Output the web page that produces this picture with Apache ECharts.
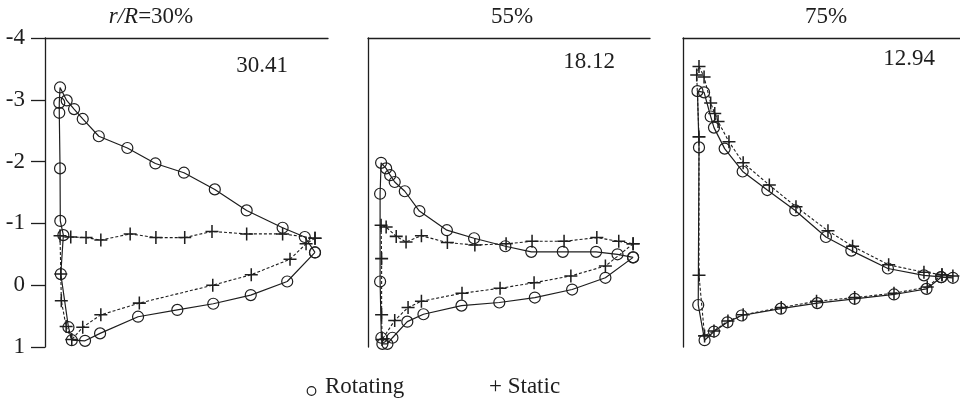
<!DOCTYPE html>
<html>
<head>
<meta charset="utf-8">
<script src="https://cdn.jsdelivr.net/npm/echarts@6/dist/echarts.min.js"></script>
<style>
  html, body { margin: 0; padding: 0; background: #fff; }
  #chart { width: 960px; height: 406px; }
</style>
</head>
<body>
<div id="chart"></div>
<script>
// pressure coefficient along the chord, three radial sections
const yTicks = [-4, -3, -2, -1, 0, 1];
const panelNames = ['{i|r/R}=30%', '55%', '75%'];
const panelValues = ['30.41', '18.12', '12.94'];
const legendNames = ['Rotating', '+ Static'];

// r/R = 30%
const rot30X = [1.0, 0.891, 0.748, 0.601, 0.46, 0.306, 0.157, 0.098, 0.046, 0.033, 0.003, 0.013, 0.001, 0.0, -0.003, -0.003, 0.0, 0.026, 0.055, 0.089, 0.152, 0.264, 0.374, 0.486, 0.607, 0.732, 0.873, 0.96, 1.0];
const rot30Cp = [-0.53, -0.06, 0.16, 0.30, 0.40, 0.51, 0.78, 0.90, 0.89, 0.68, -0.18, -0.81, -1.04, -1.89, -2.79, -2.95, -3.2, -2.99, -2.85, -2.69, -2.41, -2.22, -1.97, -1.82, -1.55, -1.21, -0.93, -0.78, -0.53];
const sta30X = [1.0, 0.965, 0.902, 0.75, 0.599, 0.311, 0.16, 0.089, 0.046, 0.024, 0.005, 0.003, 0.0, 0.042, 0.102, 0.16, 0.275, 0.376, 0.489, 0.596, 0.732, 0.873, 1.0];
const sta30Cp = [-0.76, -0.67, -0.42, -0.17, 0.0, 0.29, 0.48, 0.68, 0.88, 0.67, 0.25, -0.18, -0.80, -0.78, -0.77, -0.73, -0.83, -0.77, -0.77, -0.87, -0.83, -0.83, -0.76];

// r/R = 55%
const rot55X = [1.0, 0.89, 0.758, 0.61, 0.469, 0.319, 0.168, 0.104, 0.045, 0.025, 0.005, 0.001, -0.004, -0.004, 0.0, 0.02, 0.036, 0.054, 0.094, 0.152, 0.261, 0.369, 0.493, 0.596, 0.721, 0.853, 0.938, 1.0];
const rot55Cp = [-0.45, -0.12, 0.07, 0.20, 0.28, 0.33, 0.47, 0.59, 0.85, 0.95, 0.95, 0.85, -0.06, -1.48, -1.98, -1.89, -1.78, -1.67, -1.52, -1.2, -0.89, -0.76, -0.63, -0.54, -0.54, -0.54, -0.50, -0.45];
const sta55X = [1.0, 0.89, 0.753, 0.607, 0.472, 0.321, 0.16, 0.107, 0.054, 0.004, 0.002, 0.002, 0.0, 0.02, 0.06, 0.099, 0.16, 0.263, 0.372, 0.496, 0.599, 0.726, 0.856, 0.943, 1.0];
const sta55Cp = [-0.67, -0.31, -0.15, -0.04, 0.05, 0.13, 0.26, 0.36, 0.57, 0.88, 0.48, -0.43, -0.97, -0.94, -0.79, -0.70, -0.80, -0.69, -0.65, -0.67, -0.71, -0.71, -0.77, -0.71, -0.67];

// r/R = 75%
const rot75X = [0.954, 0.896, 0.768, 0.613, 0.466, 0.322, 0.168, 0.112, 0.059, 0.022, -0.003, 0.0, -0.006, 0.02, 0.046, 0.059, 0.101, 0.172, 0.269, 0.379, 0.5, 0.6, 0.744, 0.886, 1.0, 0.954];
const rot75Cp = [-0.13, 0.06, 0.15, 0.22, 0.29, 0.38, 0.49, 0.60, 0.75, 0.89, 0.32, -2.23, -3.14, -3.12, -2.73, -2.55, -2.21, -1.84, -1.54, -1.21, -0.78, -0.56, -0.27, -0.16, -0.12, -0.13];
const sta75X = [0.957, 0.899, 0.768, 0.613, 0.463, 0.324, 0.174, 0.114, 0.059, 0.022, 0.0, 0.0, -0.009, 0.0, 0.02, 0.046, 0.062, 0.075, 0.118, 0.174, 0.277, 0.382, 0.508, 0.605, 0.747, 0.886, 1.0, 0.957];
const sta75Cp = [-0.17, 0.03, 0.13, 0.20, 0.26, 0.36, 0.48, 0.58, 0.74, 0.82, -0.16, -2.40, -3.40, -3.54, -3.37, -2.95, -2.78, -2.65, -2.32, -1.98, -1.62, -1.27, -0.88, -0.63, -0.33, -0.21, -0.15, -0.17];

const rotX = [rot30X, rot55X, rot75X];
const rotCp = [rot30Cp, rot55Cp, rot75Cp];
const staX = [sta30X, sta55X, sta75X];
const staCp = [sta30Cp, sta55Cp, sta75Cp];

const ink = '#1e1e1e';
const serif = 'Liberation Serif';
const plusPath = 'path://M5.3,0H6.7V12H5.3Z M0,5.3H12V6.7H0Z';

const panels = [
  { left: 45, width: 283, xMin: -0.059, xMax: 1.051, titleX: 151, valueX: 262, valueY: 66 },
  { left: 368, width: 282, xMin: -0.052, xMax: 1.067, titleX: 512, valueX: 589, valueY: 62 },
  { left: 683, width: 277, xMin: -0.063, xMax: 1.028, titleX: 826, valueX: 909, valueY: 59 }
];

const zip = (xs, ys) => xs.map((x, i) => [x, ys[i]]);

const chart = echarts.init(document.getElementById('chart'));

const grid = panels.map(p => ({ left: p.left, width: p.width, top: 38, height: 309 }));

const xAxis = panels.map((p, i) => ({
  type: 'value',
  gridIndex: i,
  position: 'top',
  min: p.xMin,
  max: p.xMax,
  axisLine: { show: true, onZero: false, lineStyle: { color: ink, width: 1.3 } },
  axisTick: { show: false },
  axisLabel: { show: false },
  splitLine: { show: false }
}));

const yAxis = panels.map((p, i) => ({
  type: 'value',
  gridIndex: i,
  inverse: true,
  min: yTicks[0],
  max: yTicks[yTicks.length - 1],
  interval: 1,
  axisLine: { show: true, onZero: false, lineStyle: { color: ink, width: 1.3 } },
  axisTick: { show: i === 0, length: 14, lineStyle: { color: ink, width: 1.3 } },
  axisLabel: {
    show: i === 0,
    margin: 20,
    color: ink,
    fontFamily: serif,
    fontSize: 23
  },
  splitLine: { show: false }
}));

const series = [];
panels.forEach((p, i) => {
  series.push({
    name: 'Rotating',
    type: 'line',
    xAxisIndex: i,
    yAxisIndex: i,
    data: zip(rotX[i], rotCp[i]),
    symbol: 'circle',
    symbolSize: 11,
    itemStyle: { color: 'rgba(0,0,0,0)', borderColor: ink, borderWidth: 1.2 },
    lineStyle: { color: ink, width: 1.2 },
    z: 2
  });
  series.push({
    name: 'Static',
    type: 'line',
    xAxisIndex: i,
    yAxisIndex: i,
    data: zip(staX[i], staCp[i]),
    symbol: plusPath,
    symbolSize: 13,
    itemStyle: { color: ink },
    lineStyle: { color: ink, width: 1.1, type: [3, 2] },
    z: 3
  });
});

const textStyle = (text, align) => ({
  text: text,
  fill: ink,
  fontFamily: serif,
  fontSize: 23,
  textAlign: align,
  textVerticalAlign: 'middle'
});

const graphic = [];
panels.forEach((p, i) => {
  const title = textStyle(panelNames[i], 'center');
  title.rich = { i: { fontStyle: 'italic', fontSize: 23, fontFamily: serif, fill: ink } };
  graphic.push({ type: 'text', x: p.titleX, y: 17, style: title });
  graphic.push({ type: 'text', x: p.valueX, y: p.valueY, style: textStyle(panelValues[i], 'center') });
});

// legend
graphic.push({
  type: 'circle',
  shape: { cx: 311.5, cy: 391, r: 4.3 },
  style: { fill: 'none', stroke: ink, lineWidth: 1.2 }
});
graphic.push({ type: 'text', x: 325, y: 387, style: textStyle(legendNames[0], 'left') });
graphic.push({ type: 'text', x: 489, y: 387, style: textStyle(legendNames[1], 'left') });

chart.setOption({
  animation: false,
  backgroundColor: '#fff',
  grid: grid,
  xAxis: xAxis,
  yAxis: yAxis,
  series: series,
  graphic: graphic
});
</script>
</body>
</html>
